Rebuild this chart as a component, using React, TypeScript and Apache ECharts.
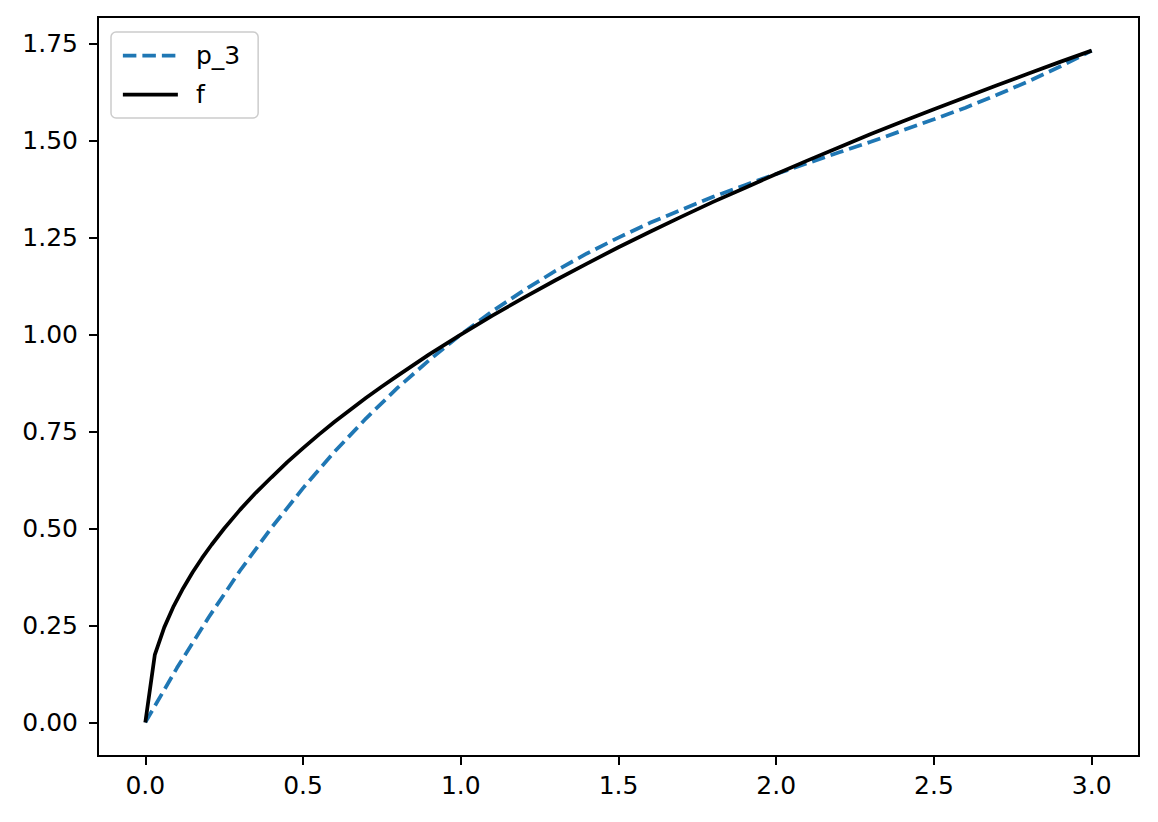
import { useEffect, useRef } from "react";
import * as echarts from "echarts";

const INK = "#000000";
const BLUE = "#1f77b4";
const FONT = "DejaVu Sans";
const LINE_W = 3.75;
const DASH = [13.5, 6];

// p_3: dashed interpolating polynomial
const P3_X = [0, 0.1, 0.2, 0.3, 0.4, 0.5, 0.6, 0.7, 0.8, 0.9, 1.0, 1.1, 1.2, 1.3, 1.4, 1.5, 1.6, 1.7, 1.8, 1.9, 2.0, 2.1, 2.2, 2.3, 2.4, 2.5, 2.6, 2.7, 2.8, 2.9, 3.0];
const P3_Y = [0, 0.140, 0.270, 0.391, 0.502, 0.604, 0.698, 0.784, 0.863, 0.934, 1.0, 1.060, 1.114, 1.164, 1.209, 1.250, 1.288, 1.322, 1.355, 1.385, 1.414, 1.442, 1.470, 1.497, 1.526, 1.555, 1.585, 1.618, 1.653, 1.691, 1.732];

// f: solid black curve
const F_X = [0, 0.03, 0.06, 0.09, 0.12, 0.15, 0.18, 0.21, 0.25, 0.3, 0.35, 0.4, 0.45, 0.5, 0.55, 0.6, 0.65, 0.7, 0.75, 0.8, 0.9, 1.0, 1.1, 1.2, 1.3, 1.4, 1.5, 1.6, 1.7, 1.8, 1.9, 2.0, 2.1, 2.2, 2.3, 2.4, 2.5, 2.6, 2.7, 2.8, 2.9, 3.0];
const F_Y = [0, 0.174, 0.245, 0.300, 0.346, 0.387, 0.424, 0.458, 0.500, 0.548, 0.592, 0.632, 0.671, 0.707, 0.742, 0.775, 0.806, 0.837, 0.866, 0.894, 0.949, 1.0, 1.049, 1.095, 1.140, 1.183, 1.225, 1.265, 1.304, 1.342, 1.378, 1.414, 1.449, 1.483, 1.517, 1.549, 1.581, 1.612, 1.643, 1.673, 1.703, 1.732];

const X_TICKS = [0, 0.5, 1.0, 1.5, 2.0, 2.5, 3.0];
const Y_TICKS = [0, 0.25, 0.5, 0.75, 1.0, 1.25, 1.5, 1.75];

export default function App() {
  const ref = useRef<HTMLDivElement>(null);

  useEffect(() => {
    if (!ref.current) return;
    const chart = echarts.init(ref.current, null, { renderer: "svg" });

    chart.setOption({
      animation: false,
      textStyle: { fontFamily: FONT },
      grid: {
        left: 98,
        right: 19,
        top: 17,
        bottom: 66,
        show: true,
        borderColor: INK,
        borderWidth: 2,
        backgroundColor: "transparent",
      },
      legend: {
        left: 111,
        top: 32,
        orient: "vertical",
        padding: [11, 18, 11, 10],
        itemGap: 14,
        itemWidth: 55,
        itemHeight: 14,
        backgroundColor: "rgba(255,255,255,0.8)",
        borderColor: "#cccccc",
        borderWidth: 1.5,
        borderRadius: 5,
        itemStyle: { opacity: 0 },
        textStyle: { color: INK, fontSize: 25, fontFamily: FONT, padding: [0, 0, 0, 13] },
        data: [
          { name: "p_3", lineStyle: { color: BLUE, width: LINE_W, type: DASH } },
          { name: "f", lineStyle: { color: INK, width: LINE_W, type: "solid" } },
        ],
      },
      xAxis: {
        type: "value",
        min: -0.15,
        max: 3.15,
        splitLine: { show: false },
        axisLine: { show: true, onZero: false, lineStyle: { color: INK, width: 2 } },
        axisTick: { show: true, customValues: X_TICKS, length: 9, lineStyle: { color: INK, width: 2 } },
        axisLabel: {
          customValues: X_TICKS,
          color: INK,
          fontSize: 25,
          fontFamily: FONT,
          margin: 17,
          formatter: (v: number) => v.toFixed(1),
        },
      },
      yAxis: {
        type: "value",
        min: -0.0866,
        max: 1.8187,
        splitLine: { show: false },
        axisLine: { show: true, onZero: false, lineStyle: { color: INK, width: 2 } },
        axisTick: { show: true, customValues: Y_TICKS, length: 9, lineStyle: { color: INK, width: 2 } },
        axisLabel: {
          customValues: Y_TICKS,
          color: INK,
          fontSize: 25,
          fontFamily: FONT,
          margin: 20,
          formatter: (v: number) => v.toFixed(2),
        },
      },
      series: [
        {
          name: "p_3",
          type: "line",
          data: P3_X.map((x, i) => [x, P3_Y[i]]),
          symbol: "none",
          showSymbol: false,
          lineStyle: { color: BLUE, width: LINE_W, type: DASH },
          itemStyle: { color: BLUE },
        },
        {
          name: "f",
          type: "line",
          data: F_X.map((x, i) => [x, F_Y[i]]),
          symbol: "none",
          showSymbol: false,
          lineStyle: { color: INK, width: LINE_W },
          itemStyle: { color: INK },
        },
      ],
    });

    return () => chart.dispose();
  }, []);

  return (
    <div
      ref={ref}
      style={{ position: "fixed", left: 0, top: 0, width: 1158, height: 822, background: "#ffffff" }}
    />
  );
}
